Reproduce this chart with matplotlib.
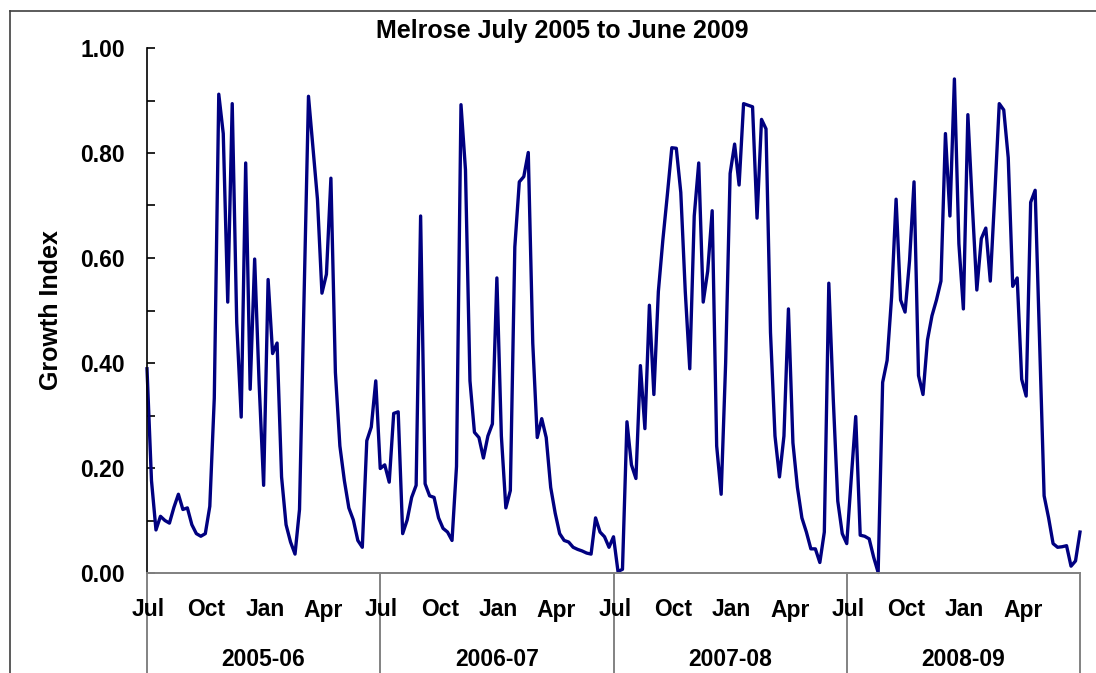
import numpy as np
import matplotlib
matplotlib.use("Agg")
import matplotlib.pyplot as plt
from matplotlib.lines import Line2D
import matplotlib.transforms as mtransforms

# ---- data (weekly growth index, July 2005 - June 2009) ----
seasons = ["2005-06", "2006-07", "2007-08", "2008-09"]
month_labels = ["Jul", "Oct", "Jan", "Apr"]
month_offsets = [0, 3, 6, 9]  # months after July

s2005_06 = [0.389, 0.176, 0.082, 0.108, 0.100, 0.095, 0.125, 0.150, 0.121, 0.124,
            0.092, 0.075, 0.070, 0.075, 0.127, 0.333, 0.912, 0.837, 0.516, 0.894,
            0.477, 0.297, 0.781, 0.350, 0.598, 0.360, 0.167, 0.559, 0.418, 0.438,
            0.183, 0.092, 0.059, 0.036, 0.121, 0.520, 0.908, 0.810, 0.712, 0.533,
            0.569, 0.752, 0.382, 0.242, 0.176, 0.124, 0.101, 0.062, 0.049, 0.252,
            0.278, 0.366]
s2006_07 = [0.199, 0.206, 0.173, 0.304, 0.307, 0.075, 0.101, 0.144, 0.167, 0.680,
            0.170, 0.147, 0.144, 0.105, 0.085, 0.078, 0.062, 0.203, 0.892, 0.768,
            0.366, 0.268, 0.258, 0.219, 0.261, 0.284, 0.562, 0.261, 0.124, 0.157,
            0.621, 0.745, 0.755, 0.801, 0.438, 0.258, 0.294, 0.258, 0.163, 0.114,
            0.075, 0.062, 0.059, 0.049, 0.045, 0.042, 0.038, 0.036, 0.105, 0.078,
            0.069, 0.049]
s2007_08 = [0.069, 0.003, 0.007, 0.288, 0.206, 0.180, 0.395, 0.275, 0.510, 0.340,
            0.536, 0.634, 0.720, 0.810, 0.809, 0.725, 0.536, 0.389, 0.680, 0.781,
            0.516, 0.575, 0.690, 0.242, 0.150, 0.400, 0.761, 0.817, 0.739, 0.894,
            0.891, 0.888, 0.676, 0.864, 0.846, 0.458, 0.261, 0.183, 0.261, 0.503,
            0.248, 0.163, 0.105, 0.078, 0.046, 0.046, 0.020, 0.078, 0.552, 0.330,
            0.137, 0.075]
s2008_09 = [0.056, 0.180, 0.298, 0.072, 0.070, 0.065, 0.030, 0.001, 0.363, 0.405,
            0.526, 0.712, 0.520, 0.497, 0.595, 0.745, 0.376, 0.340, 0.444, 0.490,
            0.520, 0.556, 0.837, 0.680, 0.941, 0.627, 0.503, 0.873, 0.700, 0.539,
            0.637, 0.657, 0.556, 0.720, 0.894, 0.882, 0.791, 0.546, 0.562, 0.369,
            0.337, 0.706, 0.729, 0.440, 0.147, 0.105, 0.056, 0.049, 0.050, 0.052,
            0.013, 0.023, 0.078]

values = np.array(s2005_06 + s2006_07 + s2007_08 + s2008_09)
weeks_per_year = 52
x = np.arange(len(values))

plt.rcParams['font.family'] = ['Liberation Sans', 'DejaVu Sans']
plt.rcParams['font.weight'] = 'bold'

W, H = 1096, 673
fig = plt.figure(figsize=(W / 100, H / 100), dpi=100)
fig.patch.set_facecolor('white')

L, R, T, B = 147, 1080, 48, 573
ax = fig.add_axes([L / W, 1 - B / H, (R - L) / W, (B - T) / H])
ax.plot(x, values, color='#000080', lw=2.4, solid_joinstyle='round', clip_on=False)

n_years = len(seasons)
ax.set_xlim(0, n_years * weeks_per_year)
ax.set_ylim(0, 1.0)

# spines
for s in ['top', 'right']:
    ax.spines[s].set_visible(False)
ax.spines['left'].set_color('black')
ax.spines['left'].set_linewidth(1.2)
ax.spines['bottom'].set_color('#808080')
ax.spines['bottom'].set_linewidth(1.4)

ax.set_yticks(np.arange(0, 1.01, 0.2))
ax.set_yticks(np.arange(0, 1.01, 0.1), minor=True)
ax.set_yticklabels([f"{v:.2f}" for v in np.arange(0, 1.01, 0.2)])
ax.tick_params(axis='y', which='both', direction='in', length=6, width=1.2,
               color='black', labelsize=16.5, pad=16)
ax.set_xticks([])
for lab in ax.get_yticklabels():
    lab.set_fontweight('bold')

ax.set_ylabel("Growth Index", fontsize=18, fontweight='bold', labelpad=12)

# hierarchical x axis: months and seasons
trans = mtransforms.blended_transform_factory(ax.transData, ax.transAxes)
axis_h = B - T
for i, season in enumerate(seasons):
    start = i * weeks_per_year
    for lab, mo in zip(month_labels, month_offsets):
        ax.text(start + mo * weeks_per_year / 12 + 0.3, -(610 - B) / axis_h, lab,
                transform=trans, ha='center', va='center', fontsize=16.5,
                fontweight='bold')
    ax.text(start + weeks_per_year / 2, -(660 - B) / axis_h, season,
            transform=trans, ha='center', va='center', fontsize=16.5,
            fontweight='bold')
for i in range(n_years + 1):
    ax.plot([i * weeks_per_year] * 2, [0, -(H - B + 5) / axis_h], transform=trans,
            color='#606060', lw=1.1, clip_on=False)

fig.text(562 / W, 1 - 31 / H, "Melrose July 2005 to June 2009", ha='center',
         va='center', fontsize=18, fontweight='bold')

# outer chart frame
fig.add_artist(Line2D([10 / W, 1.0], [1 - 11 / H, 1 - 11 / H], color='#404040', lw=1.2,
                      transform=fig.transFigure))
fig.add_artist(Line2D([10 / W, 10 / W], [0, 1 - 11 / H], color='#404040', lw=1.2,
                      transform=fig.transFigure))

fig.savefig("out.png", dpi=100)
